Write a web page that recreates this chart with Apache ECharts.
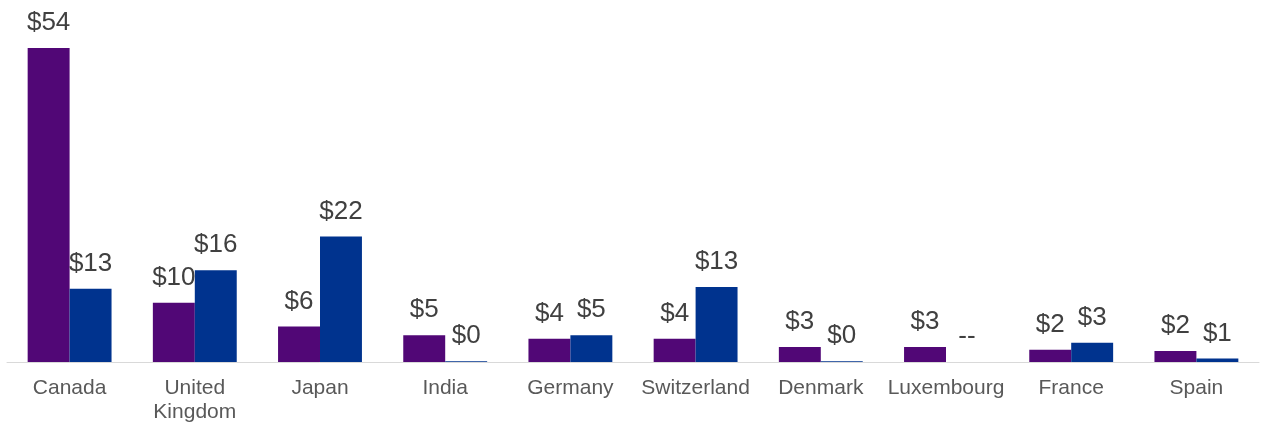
<!DOCTYPE html>
<html>
<head>
<meta charset="utf-8">
<script src="https://cdn.jsdelivr.net/npm/echarts@6/dist/echarts.min.js"></script>
<style>
html,body{margin:0;padding:0;background:#fff;}
#chart{width:1265px;height:424px;}
</style>
</head>
<body>
<div id="chart"></div>
<script>
const categories = ["Canada","United Kingdom","Japan","India","Germany","Switzerland","Denmark","Luxembourg","France","Spain"];
const seriesA = [54, 10.2, 6.1, 4.6, 4.0, 4.0, 2.6, 2.6, 2.1, 1.9];
const seriesB = [12.6, 15.8, 21.6, 0.15, 4.6, 12.9, 0.15, null, 3.3, 0.6];

const fmt = p => '$' + Math.round(p.value);
const labelStyle = {
  show: true, position: 'top', distance: 12,
  fontFamily: 'Liberation Sans, Arial, sans-serif', fontSize: 26, color: '#404040',
  formatter: fmt
};
const dataB = seriesB.map(v => v === null ? {value: 0, label: {formatter: '--'}} : v);

const chart = echarts.init(document.getElementById('chart'), null, {renderer: 'canvas'});
chart.setOption({
  animation: false,
  grid: {left: 7, right: 6, top: 48, bottom: 62},
  xAxis: {
    type: 'category', data: categories,
    axisLine: {lineStyle: {color: '#d9d9d9', width: 1}},
    axisTick: {show: false},
    axisLabel: {
      interval: 0, margin: 14,
      fontFamily: 'Liberation Sans, Arial, sans-serif', fontSize: 21, color: '#595959', lineHeight: 24,
      formatter: v => v.replace(' ', '\n')
    }
  },
  yAxis: {type: 'value', min: 0, max: 54, show: false, splitLine: {show: false}},
  series: [
    {type: 'bar', data: seriesA, barGap: '0%', barCategoryGap: '33%',
     itemStyle: {color: '#510776'}, label: labelStyle},
    {type: 'bar', data: dataB, barGap: '0%', barCategoryGap: '33%',
     itemStyle: {color: '#00338e'}, label: labelStyle}
  ]
});
</script>
</body>
</html>
